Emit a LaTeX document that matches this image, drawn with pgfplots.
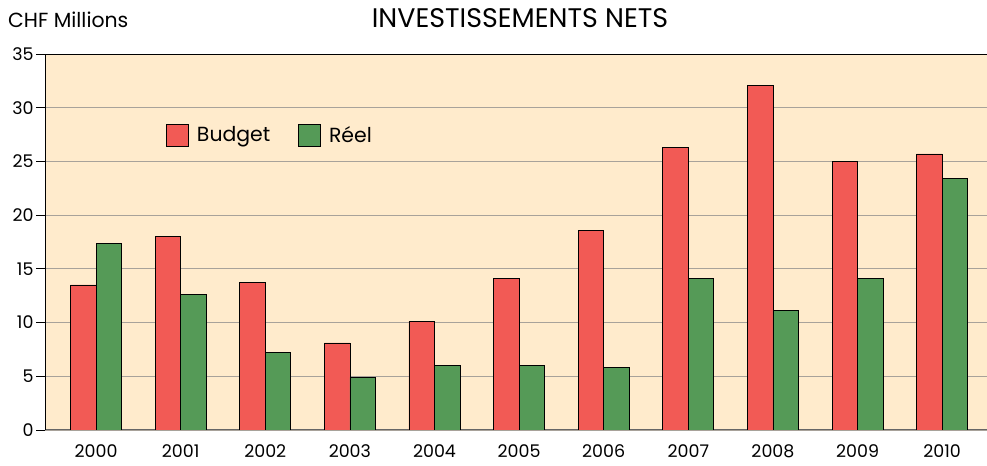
\documentclass[border=0pt]{standalone}
\usepackage{pgfplots}
\pgfplotsset{compat=1.18}
\usepackage{fontspec}
\setmainfont{Poppins}
\definecolor{bgc}{HTML}{FFEBCC}
\definecolor{redc}{HTML}{F25A55}
\definecolor{greenc}{HTML}{559A57}
\definecolor{gridc}{HTML}{A8A29A}
\begin{document}
\begin{tikzpicture}[x=1bp,y=1bp]
\useasboundingbox (0,0) rectangle (987,466);
\begin{axis}[
  at={(45bp,36bp)}, anchor=south west,
  scale only axis, width=942bp, height=376bp,
  xmin=-0.603, xmax=10.53, ymin=0, ymax=35,
  xtick={0,...,10},
  xticklabels={2000,2001,2002,2003,2004,2005,2006,2007,2008,2009,2010},
  ytick={0,5,...,35},
  ybar, bar width=25.5bp,
  axis background/.style={fill=bgc},
  axis x line*=bottom, axis y line*=left,
  x axis line style={draw=gray!80!black, line width=1pt},
  y axis line style={draw=black, line width=0.8pt},
  ymajorgrids, grid style={gridc, line width=0.8pt},
  xtick style={draw=none},
  ytick style={draw=black, line width=0.8pt},
  tick align=outside, major tick length=9bp,
  /pgf/number format/assume math mode=true,
  ticklabel style={font=\fontsize{17.5}{20}\selectfont},
  xticklabel style={yshift=-2bp},
  yticklabel style={xshift=1bp},
  legend style={at={(118bp,295bp)}, anchor=west, draw=none, fill=none,
    legend columns=2, font=\fontsize{20.5}{24}\selectfont,
    /tikz/every odd column/.append style={column sep=6bp},
    /tikz/every even column/.append style={column sep=26bp}},
  legend image code/.code={\draw[#1, line width=0.8pt] (0bp,-11bp) rectangle (22bp,11bp);},
]
\draw[black, line width=0.8pt] (axis cs:-0.603,35) -- (axis cs:10.53,35);
\addplot[fill=redc, draw=black, line width=0.7pt, bar shift=-12.75bp] coordinates {
(0,13.5) (1,18.0) (2,13.7) (3,8.1) (4,10.1) (5,14.1) (6,18.6) (7,26.3) (8,32.1) (9,25.0) (10,25.7)};
\addplot[fill=greenc, draw=black, line width=0.7pt, bar shift=12.75bp] coordinates {
(0,17.4) (1,12.6) (2,7.2) (3,4.9) (4,6.0) (5,6.0) (6,5.8) (7,14.1) (8,11.1) (9,14.1) (10,23.4)};
\legend{Budget, Réel}
\end{axis}
\node[anchor=north west, inner sep=0pt, font=\fontsize{20.5}{24}\selectfont] at (8bp,454bp) {CHF Millions};
\node[anchor=north, inner sep=0pt, font=\fontsize{27}{32}\selectfont] at (520bp,458bp) {INVESTISSEMENTS NETS};
\end{tikzpicture}
\end{document}
